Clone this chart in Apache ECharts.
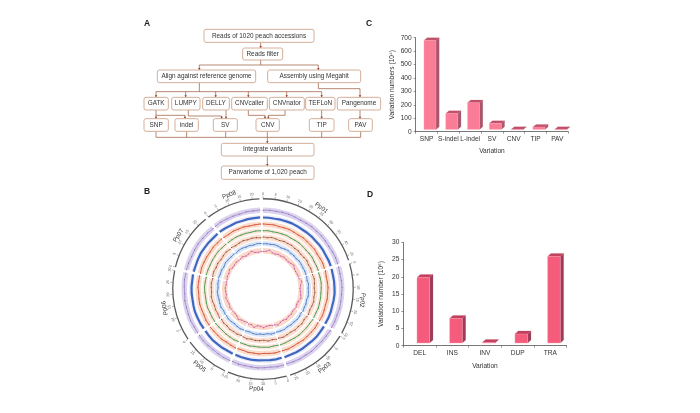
<!DOCTYPE html>
<html><head><meta charset="utf-8">
<style>html,body{margin:0;padding:0;background:#fff}#c{width:700px;height:413px}</style>
<script src="https://cdn.jsdelivr.net/npm/echarts@6/dist/echarts.min.js"></script>
</head><body><div id="c"></div>
<script>
// ---------- data ----------
const snpCategories = ['SNP','S-indel','L-indel','SV','CNV','TIP','PAV'];
const snpValues = [680,136,216,62,15,35,15];
const svCategories = ['DEL','INS','INV','DUP','TRA'];
const svValues = [19.8,7.9,0.9,3.4,25.9];

const chromNames = ['Pp01','Pp02','Pp03','Pp04','Pp05','Pp06','Pp07','Pp08'];
const chromLengths = [47,30,27,25,19,30,24,23];
const centromeres = [21.5,11.4,13.3,21.4,9,17,6.7,11.8];

// Track readings, one per 3 Mb (scale 0-9 inside each ring), Pp01 ... Pp08 in a row
const purpleTrack = [5,6,5,6,6,5,4,5,6,5,6,5,4,5,6,5, 5,4,5,6,5,5,6,4,5,5, 6,5,5,4,6,5,6,5,4, 5,6,4,5,6,5,5,6,4, 5,6,5,4,5,6,5, 5,4,6,5,5,6,4,5,6,5, 6,5,4,5,6,5,5,4, 5,6,5,5,4,6,5,6];
const blueTrack = [5,5,4,5,5,6,5,4,5,5,4,5,5,4,5,5, 5,4,5,5,6,5,4,5,5,4, 5,5,6,5,4,5,5,4,5, 4,5,5,4,5,6,5,5,4, 5,4,5,5,6,5,4, 4,5,5,6,5,4,5,5,4,5, 5,4,5,6,5,5,4,5, 6,5,4,5,4,5,5,6];
const redTrack = [6,5,6,4,5,6,5,4,6,5,5,6,4,5,6,5, 6,4,5,6,5,6,4,5,6,5, 4,6,5,5,6,4,5,6,5, 5,6,5,4,6,5,6,4,5, 6,5,4,6,5,5,6, 5,6,4,5,6,5,4,6,5,5, 4,6,5,5,4,6,5,6, 5,4,6,5,6,4,5,6];
const greenTrack = [5,6,4,5,5,6,4,5,6,5,4,5,6,4,5,5, 4,5,6,5,4,5,5,6,4,5, 6,4,5,5,6,5,4,5,6, 5,4,6,5,5,4,6,5,5, 4,6,5,5,4,5,6, 5,5,4,6,5,4,5,6,5,4, 6,5,4,5,5,6,4,5, 4,5,6,5,5,4,6,5];
const brownTrack = [6,4,7,5,3,6,5,7,4,6,3,5,7,4,6,5, 4,7,5,3,6,4,7,5,3,6, 5,3,7,4,6,3,5,7,4, 6,4,7,3,5,6,4,7,5, 3,6,5,7,4,6,3, 7,4,5,3,6,7,4,5,6,3, 5,7,4,6,3,5,7,4, 6,3,5,7,4,6,5,3];
const skyTrack = [4,5,4,6,5,3,5,6,4,5,3,6,5,4,5,4, 5,3,6,4,5,6,3,5,4,6, 3,5,6,4,5,3,6,5,4, 5,6,3,5,4,6,5,3,5, 4,6,5,3,5,6,4, 5,3,6,5,4,5,6,3,5,4, 6,4,5,3,6,5,4,5, 3,5,6,4,5,3,6,5];
const magentaTrack = [3,4,8,3,2,4,3,5,3,2,4,7,3,2,3,4, 3,8,4,2,3,5,7,3,2,4, 3,2,4,3,5,2,3,7,3, 4,2,3,6,3,2,8,3,4, 2,3,4,7,3,2,3, 3,4,2,3,5,2,3,4,2,3, 2,4,3,6,2,3,4,3, 3,5,2,4,8,3,2,4];

const flowLabels = ['Reads of 1020 peach accessions','Reads filter','Align against reference genome','Assembly using Megahit','GATK','LUMPY','DELLY','CNVcaller','CNVnator','TEFLoN','Pangenome','SNP','indel','SV','CNV','TIP','PAV','Integrate variants','Panvariome of 1,020 peach'];
const panelLetters = ['A','B','C','D'];

// ---------- flow chart layout (A) ----------
const zx = v => 130 + v / 3, zy = v => 10 + v / 3;
const flowBoxes = [[222,58,552,97],[338,114,458,150],[82,180,377,218],[413,180,692,218],
 [42,262,115,300],[125,262,210,300],[218,262,298,300],[305,262,412,300],[418,262,523,300],[527,262,615,300],[622,262,752,300],
 [42,326,115,364],[135,326,205,364],[250,326,322,364],[378,326,448,364],[538,326,612,364],[656,326,727,364],
 [274,400,552,438],[274,468,552,508]];
const flowLinks = [
 [[392,97],[392,114]],
 [[392,150],[392,165]],
 [[392,165],[208,165],[208,180]],
 [[392,165],[565,165],[565,180]],
 [[208,218],[208,245]],
 [[78,245],[575,245]],
 [[78,245],[78,262]],[[167,245],[167,262]],[[257,245],[257,262]],[[355,245],[355,262]],[[470,245],[470,262]],[[575,245],[575,262]],
 [[565,218],[565,236],[690,236],[690,262]],
 [[78,300],[78,326]],
 [[78,316],[165,316],[165,326]],
 [[175,300],[175,318],[275,318],[275,326]],
 [[288,300],[288,326]],
 [[355,300],[355,316],[405,316],[405,326]],
 [[465,300],[465,316],[415,316],[415,326]],
 [[575,300],[575,326]],
 [[690,300],[690,326]],
 [[78,382],[692,382]],
 [[78,364],[78,382]],[[170,364],[170,382]],[[287,364],[287,382]],[[412,364],[412,382]],[[575,364],[575,382]],[[692,364],[692,382]],
 [[412,382],[412,400]],
 [[412,438],[412,468]]
];
const noArrowEnds = new Set(['392,165','208,245','78,382','170,382','287,382','412,382','575,382','692,382']);

const graphic = [];
flowLinks.forEach(pts => {
  const p = pts.map(q => [zx(q[0]), zy(q[1])]);
  graphic.push({type:'polyline', z:1, shape:{points:p}, style:{fill:'none', stroke:'#a5694f', lineWidth:0.8}});
  const last = pts[pts.length-1], prev = pts[pts.length-2];
  if (last[0] === prev[0] && last[1] > prev[1] && !noArrowEnds.has(last.join(','))) {
    const e = p[p.length-1];
    graphic.push({type:'polygon', z:1, shape:{points:[[e[0]-1.2,e[1]-2],[e[0]+1.2,e[1]-2],[e[0],e[1]]]}, style:{fill:'#8f3a22'}});
  }
});
flowBoxes.forEach((b,i) => {
  const x0=zx(b[0]), y0=zy(b[1]), x1=zx(b[2]), y1=zy(b[3]);
  graphic.push({type:'rect', z:2, shape:{x:x0,y:y0,width:x1-x0,height:y1-y0,r:2}, style:{fill:'#fff',stroke:'#cfa68e',lineWidth:0.9}});
  graphic.push({type:'text', z:3, x:(x0+x1)/2, y:(y0+y1)/2, style:{text:flowLabels[i], font:'6.4px "Liberation Sans"', fill:'#333', align:'center', verticalAlign:'middle'}});
});
[[147,24],[147,192],[369,24],[370,195]].forEach((p,i) => {
  graphic.push({type:'text', x:p[0], y:p[1], style:{text:panelLetters[i], font:'bold 8.5px "Liberation Sans"', fill:'#222', align:'center', verticalAlign:'middle'}});
});

// ---------- 3D-look bars ----------
function bar3d(front, side, top, width, shift, lift, dx, dy) {
  return (params, api) => {
    const t = api.coord([api.value(0), api.value(1)]);
    const b = api.coord([api.value(0), 0]);
    const x0 = t[0] + shift - width/2, x1 = x0 + width;
    const yt = Math.min(t[1], b[1]-lift), yb = b[1]-lift;
    const poly = (pts, fill) => ({type:'polygon', shape:{points:pts}, style:{fill, stroke:fill, lineWidth:0.2}});
    return {type:'group', children:[
      poly([[x1,yt],[x1+dx,yt-dy],[x1+dx,yb-dy],[x1,yb]], side),
      poly([[x0,yt],[x0+dx,yt-dy],[x1+dx,yt-dy],[x1,yt]], top),
      {type:'rect', shape:{x:x0,y:yt,width,height:yb-yt}, style:{fill:front, stroke:'#ffa3b6', lineWidth:0.4}}
    ]};
  };
}
const axisCommon = {
  axisLine:{show:true, lineStyle:{color:'#555',width:0.8}},
  axisTick:{show:true, length:2, lineStyle:{color:'#555',width:0.6}},
  splitLine:{show:false},
  axisLabel:{color:'#333', fontSize:6.6, fontFamily:'Liberation Sans', margin:4, interval:0, hideOverlap:false},
  nameTextStyle:{color:'#333', fontSize:6.6, fontFamily:'Liberation Sans'},
  nameLocation:'middle'
};

// ---------- circular genome plot (B) ----------
const gapUnits = 1.5;
const chromStarts = [];
let cursor = 0;
chromLengths.forEach(l => { chromStarts.push(cursor); cursor += l + gapUnits; });
const genomeTotal = cursor;
const binSize = 3;
const ringStyles = [
 {values:purpleTrack,  r0:76, r1:81.5, band:'#dcd3ee', line:'#8468b4', w:0.6, dot:1.1, k:0.3},
 {values:blueTrack,    r0:69, r1:74,   band:'#f1ecf7', line:'#3c68c2', w:2.2, dot:0,   k:0.25},
 {values:redTrack,     r0:62, r1:67.5, band:'#fbdccb', line:'#d65c46', w:1.0, dot:1.3, k:0.3},
 {values:greenTrack,   r0:56, r1:60.5, band:'#fde6d8', line:'#3e9a56', w:0.9, dot:1.1, k:0.25},
 {values:brownTrack,   r0:49, r1:54.5, band:'#fbdfd0', line:'#873826', w:0.6, dot:1.1, k:0.25},
 {values:skyTrack,     r0:43, r1:48,   band:'#dbe6f6', line:'#4675c6', w:0.8, dot:1.1, k:0.3},
 {values:magentaTrack, r0:35.5,r1:41,  band:'#fbd9c8', line:'#c03aa8', w:0.5, dot:1.0, k:0.4}
];
const sectorItem = (params, api) => {
  const c = params.coordSys, r0=api.value(0), a0=api.value(1), r1=api.value(2), a1=api.value(3);
  const p0 = api.coord([r1,a0]), p1 = api.coord([r1,a1]);
  let s = Math.atan2(p0[1]-c.cy,p0[0]-c.cx), e = Math.atan2(p1[1]-c.cy,p1[0]-c.cx);
  if (e < s) e += Math.PI*2;
  return {type:'sector', shape:{cx:c.cx,cy:c.cy,r:r1,r0:r0,startAngle:s,endAngle:e,clockwise:true},
          style:{fill:api.value(4) === 1 ? '#5a5a5a' : ringStyles[api.value(5)].band}};
};
const sectorData = [];
chromStarts.forEach((s,i) => {
  sectorData.push([89.6,s,90.9,s+chromLengths[i],1,0]);
  ringStyles.forEach((t,k) => sectorData.push([t.r0,s,t.r1,s+chromLengths[i],0,k]));
});
const tangent = (pos, flip) => {
  let d = pos/genomeTotal*360;
  if (flip && d > 105 && d < 255) d -= 180;
  return -d*Math.PI/180;
};
const tickData = [];
chromStarts.forEach((s,i) => { for (let m=0; m<=chromLengths[i]; m+=5) tickData.push([90.9,s+m,m]); });
const tickItem = (params, api) => {
  const pos = api.value(1);
  const a = api.coord([90.9,pos]), b = api.coord([92.8,pos]), t = api.coord([95.2,pos]);
  return {type:'group', children:[
    {type:'line', shape:{x1:a[0],y1:a[1],x2:b[0],y2:b[1]}, style:{stroke:'#666',lineWidth:0.5}},
    {type:'text', x:t[0], y:t[1], rotation:tangent(pos,true), style:{text:String(api.value(2)), font:'3.8px "Liberation Sans"', fill:'#666', align:'center', verticalAlign:'middle'}}
  ]};
};
const labelData = chromNames.map((n,i) => [100, chromStarts[i]+chromLengths[i]/2, n]);
const labelItem = (params, api) => {
  const pos = api.value(1), t = api.coord([api.value(0),pos]);
  return {type:'text', x:t[0], y:t[1], rotation:tangent(pos,true), style:{text:chromNames[params.dataIndex], font:'6.2px "Liberation Sans"', fill:'#333', align:'center', verticalAlign:'middle'}};
};
const polarSeries = [
 {type:'custom', coordinateSystem:'polar', silent:true, z:1, clip:false, renderItem:sectorItem, data:sectorData, encode:{radius:0, angle:1}},
 {type:'custom', coordinateSystem:'polar', silent:true, z:2, clip:false, renderItem:tickItem, data:tickData, encode:{radius:0, angle:1}},
 {type:'custom', coordinateSystem:'polar', silent:true, z:2, clip:false, renderItem:labelItem, data:labelData, encode:{radius:0, angle:1}},
 {type:'scatter', coordinateSystem:'polar', silent:true, z:5, symbolSize:3, itemStyle:{color:'#f0490f'},
  data:centromeres.map((m,i) => [90.3, chromStarts[i]+m])}
];
ringStyles.forEach(t => {
  let offset = 0;
  const mid = (t.r0+t.r1)/2;
  chromLengths.forEach((l,i) => {
    const n = Math.ceil(l/binSize);
    const pts = t.values.slice(offset, offset+n).map((v,j) => [mid+(v-5)*t.k, chromStarts[i]+j*l/(n-1)]);
    offset += n;
    polarSeries.push({type:'line', coordinateSystem:'polar', silent:true, z:3,
      symbol:t.dot ? 'circle' : 'none', symbolSize:t.dot, showSymbol:!!t.dot, itemStyle:{color:t.line},
      lineStyle:{color:t.line,width:t.w}, data:pts});
  });
});

// ---------- chart ----------
const chart = echarts.init(document.getElementById('c'), null, {renderer:'canvas'});
chart.setOption({
  animation:false, backgroundColor:'#fff', tooltip:{show:false}, legend:{show:false},
  graphic,
  grid:[
    {left:415.7, top:37.7, width:152.5, height:94, containLabel:false},
    {left:403.3, top:242.3, width:163.3, height:103.4, containLabel:false}
  ],
  xAxis:[
    {...axisCommon, type:'category', gridIndex:0, data:snpCategories, name:'Variation', nameGap:16},
    {...axisCommon, type:'category', gridIndex:1, data:svCategories, name:'Variation', nameGap:17}
  ],
  yAxis:[
    {...axisCommon, type:'value', gridIndex:0, min:0, max:700, interval:100, name:'Variation numbers (10\u2074)', nameGap:20},
    {...axisCommon, type:'value', gridIndex:1, min:0, max:30, interval:5, name:'Variation number (10\u2076)', nameGap:19}
  ],
  polar:{center:[263,289], radius:[0,90]},
  angleAxis:{type:'value', min:0, max:genomeTotal, startAngle:90, clockwise:true, show:false},
  radiusAxis:{type:'value', min:0, max:90, show:false},
  series:[
    {type:'custom', xAxisIndex:0, yAxisIndex:0, silent:true, clip:false, encode:{x:0,y:1},
     renderItem:bar3d('#fb7c96','#a9566b','#c0506b',12,3.4,2.3,3.2,2.6), data:snpValues.map((v,i)=>[i,v])},
    {type:'custom', xAxisIndex:1, yAxisIndex:1, silent:true, clip:false, encode:{x:0,y:1},
     renderItem:bar3d('#f55c7c','#9c3b55','#c2405f',12.7,3.7,2.7,3.3,3), data:svValues.map((v,i)=>[i,v])},
    ...polarSeries
  ]
});
</script></body></html>
